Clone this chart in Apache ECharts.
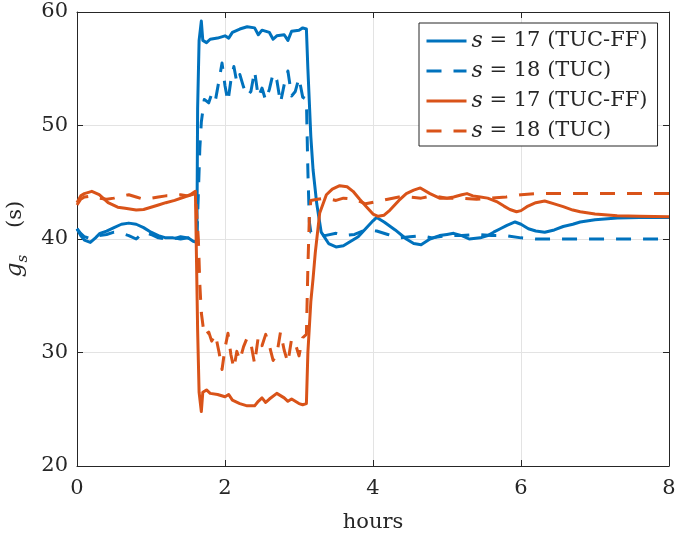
<!DOCTYPE html>
<html>
<head>
<meta charset="utf-8">
<script src="https://cdn.jsdelivr.net/npm/echarts@6/dist/echarts.min.js"></script>
<style>html,body{margin:0;padding:0;background:#fff;}#c{width:675px;height:540px;}</style>
</head>
<body>
<div id="c"></div>
<script>
// ---- data (hours, g_s in seconds) ----
const xTicks = [0, 2, 4, 6, 8];
const yTicks = [20, 30, 40, 50, 60];
const legendNames = ['s = 17 (TUC-FF)', 's = 18 (TUC)', 's = 17 (TUC-FF)', 's = 18 (TUC)'];

const tBlue17 = [0,0.05,0.1,0.18,0.25,0.31,0.4,0.5,0.6,0.7,0.8,0.9,1.0,1.1,1.2,1.3,1.4,1.5,1.57,1.62,1.63,1.65,1.68,1.7,1.75,1.8,1.9,2.0,2.05,2.1,2.2,2.3,2.4,2.45,2.5,2.6,2.65,2.7,2.8,2.85,2.9,3.0,3.05,3.1,3.12,3.16,3.19,3.24,3.3,3.4,3.5,3.6,3.7,3.8,3.9,4.0,4.05,4.15,4.3,4.45,4.55,4.65,4.77,4.9,5.0,5.09,5.2,5.3,5.45,5.55,5.63,5.72,5.81,5.92,6.0,6.1,6.2,6.32,6.45,6.57,6.7,6.8,7.0,7.3,7.6,8.0];
const vBlue17 = [40.9,40.3,39.9,39.7,40.1,40.5,40.7,41.0,41.3,41.4,41.3,41.0,40.6,40.3,40.1,40.1,40.0,40.1,39.8,39.7,51.5,57.5,59.2,57.5,57.3,57.6,57.7,57.9,57.7,58.2,58.5,58.7,58.6,58.0,58.4,58.2,57.6,57.9,58.0,57.5,58.3,58.4,58.6,58.5,55.0,49.0,46.1,43.1,40.6,39.6,39.3,39.4,39.8,40.2,40.9,41.6,41.9,41.5,40.8,40.0,39.6,39.5,40.0,40.3,40.4,40.5,40.3,40.0,40.1,40.3,40.6,40.9,41.2,41.5,41.3,40.9,40.7,40.6,40.8,41.1,41.3,41.5,41.7,41.85,41.9,41.9];

const tBlue18 = [0,0.05,0.1,0.2,0.3,0.4,0.5,0.6,0.7,0.8,0.9,1.0,1.1,1.2,1.3,1.4,1.5,1.6,1.62,1.64,1.66,1.68,1.72,1.78,1.82,1.87,1.92,1.96,2.0,2.04,2.08,2.12,2.16,2.2,2.25,2.3,2.35,2.4,2.45,2.5,2.55,2.6,2.65,2.7,2.75,2.8,2.85,2.9,2.95,3.0,3.05,3.1,3.12,3.14,3.16,3.25,3.35,3.5,3.6,3.75,3.9,4.05,4.2,4.35,4.5,4.65,4.8,5.0,5.2,5.4,5.6,5.8,6.0,6.2,6.5,7.0,8.0];
const vBlue18 = [40.9,40.5,40.2,40.0,40.3,40.4,40.6,40.5,40.3,40.0,40.6,40.4,40.1,40.0,40.0,40.2,40.1,39.8,40.0,44.0,48.0,50.3,52.3,52.0,52.8,52.2,54.0,55.5,53.5,52.1,54.0,55.2,53.8,54.5,53.4,52.6,53.0,54.8,52.5,53.3,52.2,53.2,54.6,54.0,52.0,53.6,54.8,52.6,53.0,54.2,52.5,52.3,46.0,41.5,40.6,40.5,40.3,40.5,40.3,40.4,40.8,40.7,40.4,40.1,40.2,40.3,40.1,40.3,40.3,40.4,40.3,40.3,40.1,40.0,40.0,40.0,40.0];

const tOrange17 = [0,0.05,0.1,0.2,0.3,0.42,0.55,0.65,0.8,0.9,1.0,1.1,1.2,1.32,1.45,1.53,1.6,1.62,1.63,1.65,1.68,1.7,1.75,1.8,1.9,2.0,2.05,2.1,2.2,2.3,2.4,2.45,2.5,2.55,2.6,2.7,2.75,2.8,2.85,2.9,3.0,3.05,3.1,3.12,3.16,3.19,3.22,3.28,3.37,3.45,3.55,3.65,3.73,3.82,3.91,4.0,4.07,4.15,4.23,4.35,4.45,4.55,4.64,4.77,4.9,5.0,5.09,5.2,5.27,5.35,5.45,5.55,5.67,5.77,5.85,5.94,6.0,6.08,6.2,6.32,6.45,6.57,6.7,6.8,7.0,7.3,7.6,8.0];
const vOrange17 = [43.2,43.8,44.0,44.2,43.9,43.2,42.8,42.7,42.55,42.6,42.8,43.0,43.2,43.4,43.7,43.9,44.2,44.3,32.0,26.5,24.8,26.5,26.7,26.4,26.3,26.1,26.3,25.8,25.5,25.3,25.3,25.7,26.0,25.6,25.9,26.4,26.2,26.0,25.7,25.9,25.5,25.4,25.5,30.0,34.5,36.5,38.8,42.3,43.9,44.4,44.7,44.6,44.2,43.5,42.85,42.2,42.0,42.1,42.55,43.4,44.0,44.3,44.5,44.0,43.6,43.6,43.7,43.9,44.0,43.8,43.7,43.6,43.3,42.9,42.6,42.4,42.5,42.85,43.2,43.35,43.1,42.85,42.55,42.4,42.2,42.05,42.0,41.95];

const tOrange18 = [0,0.05,0.1,0.2,0.3,0.4,0.5,0.6,0.7,0.8,0.9,1.0,1.1,1.2,1.3,1.4,1.5,1.6,1.62,1.64,1.66,1.68,1.72,1.78,1.82,1.87,1.92,1.96,2.0,2.04,2.08,2.12,2.16,2.2,2.25,2.3,2.35,2.4,2.45,2.5,2.55,2.6,2.65,2.7,2.75,2.8,2.85,2.9,2.95,3.0,3.05,3.1,3.12,3.14,3.16,3.25,3.35,3.5,3.6,3.75,3.9,4.05,4.2,4.35,4.5,4.65,4.8,5.0,5.2,5.4,5.6,5.8,6.0,6.2,6.5,7.0,8.0];
const vOrange18 = [43.0,43.5,43.7,43.8,43.6,43.5,43.6,43.8,43.9,43.7,43.5,43.6,43.7,43.8,43.8,43.9,43.8,44.0,44.0,40.0,36.0,33.5,31.5,31.8,31.0,31.6,30.0,28.5,30.4,31.7,29.8,28.6,30.1,29.3,30.5,31.3,30.8,29.0,31.4,30.6,31.6,30.6,29.3,29.8,31.8,30.2,29.1,31.2,30.8,29.7,31.3,31.6,37.5,42.0,43.4,43.5,43.6,43.4,43.6,43.5,43.1,43.3,43.5,43.7,43.7,43.6,43.8,43.6,43.6,43.5,43.6,43.7,43.9,44.0,44.0,44.0,44.0];

// ---- chart ----
const BLUE = '#0072BD', ORANGE = '#D95319';
const FONT = '"DejaVu Serif", "Liberation Serif", serif';
const AX = '#262626';
function pairs(t, v) { return t.map((x, i) => [x, v[i]]); }

const seriesDefs = [
  { id: 'b17', t: tBlue17, v: vBlue17, color: BLUE, dash: 'solid', label: legendNames[0] },
  { id: 'b18', t: tBlue18, v: vBlue18, color: BLUE, dash: [15, 12], label: legendNames[1] },
  { id: 'o17', t: tOrange17, v: vOrange17, color: ORANGE, dash: 'solid', label: legendNames[2] },
  { id: 'o18', t: tOrange18, v: vOrange18, color: ORANGE, dash: [15, 12], label: legendNames[3] }
];
const labelMap = {};
seriesDefs.forEach(d => { labelMap[d.id] = d.label; });

const chart = echarts.init(document.getElementById('c'), null, { renderer: 'canvas' });
const axisCommon = {
  type: 'value',
  axisLine: { show: true, onZero: false, lineStyle: { color: AX, width: 1 } },
  axisTick: { show: true, inside: true, length: 6, lineStyle: { color: AX } },
  axisLabel: { color: AX, fontFamily: FONT, fontSize: 21 },
  splitLine: { show: false }
};
chart.setOption({
  animation: false,
  backgroundColor: '#fff',
  grid: { left: 77, right: 6, top: 12, bottom: 74, containLabel: false, outerBoundsMode: 'none' },
  xAxis: [
    Object.assign({}, axisCommon, {
      min: 0, max: 8, interval: 2, position: 'bottom',
      axisLabel: { color: AX, fontFamily: FONT, fontSize: 21, margin: 12 },
      splitLine: { show: true, lineStyle: { color: '#e3e3e3', width: 1 } },
      name: 'hours', nameLocation: 'middle', nameGap: 46,
      nameTextStyle: { color: AX, fontFamily: FONT, fontSize: 21 }
    }),
    Object.assign({}, axisCommon, {
      min: 0, max: 8, interval: 2, position: 'top',
      axisLabel: { show: false }
    })
  ],
  yAxis: [
    Object.assign({}, axisCommon, {
      min: 20, max: 60, interval: 10, position: 'left',
      axisLabel: { color: AX, fontFamily: FONT, fontSize: 21, margin: 9 },
      splitLine: { show: true, lineStyle: { color: '#e3e3e3', width: 1 } },
      name: '{g|g}{s|s}    {n|(s)}', nameLocation: 'middle', nameGap: 44, nameRotate: 90,
      nameTextStyle: {
        color: AX, fontFamily: FONT, fontSize: 21,
        rich: {
          g: { fontFamily: FONT, fontStyle: 'italic', fontSize: 23, color: AX, lineHeight: 30, verticalAlign: 'middle' },
          s: { fontFamily: FONT, fontStyle: 'italic', fontSize: 15, color: AX, lineHeight: 14, verticalAlign: 'bottom' },
          n: { fontFamily: FONT, fontSize: 21, color: AX, lineHeight: 30, verticalAlign: 'middle' }
        }
      }
    }),
    Object.assign({}, axisCommon, {
      min: 20, max: 60, interval: 10, position: 'right',
      axisLabel: { show: false }
    })
  ],
  legend: {
    orient: 'vertical',
    left: 419, top: 23,
    data: seriesDefs.map(d => d.id),
    formatter: name => '{i|s} = ' + labelMap[name].slice(4),
    itemWidth: 40, itemHeight: 12, itemGap: 8,
    padding: [7, 10, 4, 6],
    borderColor: AX, borderWidth: 1, borderRadius: 0,
    backgroundColor: '#fff',
    selectedMode: false,
    itemStyle: { opacity: 0 },
    lineStyle: { width: 3 },
    textStyle: {
      color: AX, fontFamily: FONT, fontSize: 21, lineHeight: 21,
      rich: { i: { fontFamily: FONT, fontStyle: 'italic', fontSize: 22, color: AX, lineHeight: 21 } }
    }
  },
  series: seriesDefs.map(d => ({
    id: d.id, name: d.id, type: 'line',
    data: pairs(d.t, d.v),
    showSymbol: false, symbol: 'none',
    color: d.color,
    lineStyle: { color: d.color, width: 3, type: d.dash, cap: 'butt', join: 'round' },
    emphasis: { disabled: true },
    z: 3
  }))
});
</script>
</body>
</html>
